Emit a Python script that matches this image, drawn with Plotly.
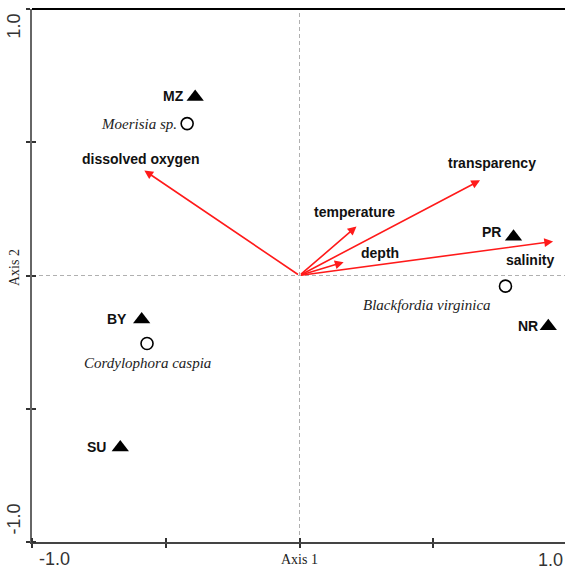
import plotly.graph_objects as go

# Sampling sites (ordination scores)
site_names = ["MZ", "PR", "NR", "BY", "SU"]
site_x = [-0.39, 0.80, 0.93, -0.59, -0.67]
site_y = [0.67, 0.145, -0.19, -0.165, -0.645]

# Species scores
species_names = ["Moerisia sp.", "Blackfordia virginica", "Cordylophora caspia"]
species_x = [-0.42, 0.77, -0.57]
species_y = [0.57, -0.04, -0.255]

# Environmental variable vectors
env_names = ["dissolved oxygen", "transparency", "temperature", "depth", "salinity"]
env_x = [-0.58, 0.675, 0.213, 0.165, 0.948]
env_y = [0.394, 0.357, 0.184, 0.05, 0.128]

# Axis ticks
tick_vals = [-1.0, -0.5, 0.0, 0.5, 1.0]
end_ticks = [-1.0, 1.0]
end_tick_text = ["-1.0", "1.0"]

SANS = "Liberation Sans"
SERIF = "Liberation Serif"

fig = go.Figure()

fig.add_trace(go.Scatter(
    x=species_x, y=species_y, mode="markers",
    marker=dict(symbol="circle-open", size=12, color="black", line=dict(width=1.6)),
    hoverinfo="skip", showlegend=False))

fig.add_trace(go.Scatter(
    x=site_x, y=site_y, mode="markers",
    marker=dict(symbol="triangle-up", size=15, color="black"),
    hoverinfo="skip", showlegend=False))

ann = []

# Arrows from the origin to each variable score
for name, ex, ey in zip(env_names, env_x, env_y):
    ann.append(dict(x=ex, y=ey, ax=0, ay=0, xref="x", yref="y", axref="x", ayref="y",
                    text="", showarrow=True, arrowhead=2, arrowsize=1.1,
                    arrowwidth=1.6, arrowcolor="#ff1a1a"))

# Variable labels
env_shift = {
    "dissolved oxygen": (-4, 12),
    "transparency": (12, 17),
    "temperature": (-2, 14),
    "depth": (36, 9),
    "salinity": (-23, -19),
}
for name, ex, ey in zip(env_names, env_x, env_y):
    dx, dy = env_shift[name]
    ann.append(dict(x=ex, y=ey, xref="x", yref="y", text="<b>%s</b>" % name,
                    showarrow=False, xshift=dx, yshift=dy,
                    font=dict(family=SANS, size=14, color="#111")))

# Site labels (left of the triangle)
site_shift = {"MZ": (-9, 1), "PR": (-11, 5), "NR": (-8, 0), "BY": (-13, 0), "SU": (-12, 0)}
for name, sx, sy in zip(site_names, site_x, site_y):
    dx, dy = site_shift[name]
    ann.append(dict(x=sx, y=sy, xref="x", yref="y", text="<b>%s</b>" % name,
                    showarrow=False, xanchor="right", xshift=dx, yshift=dy,
                    font=dict(family=SANS, size=14, color="#111")))

# Species labels
species_pos = {
    "Moerisia sp.": dict(xanchor="right", xshift=-8, yshift=0),
    "Blackfordia virginica": dict(xanchor="right", xshift=-12, yshift=-19),
    "Cordylophora caspia": dict(xanchor="center", xshift=0, yshift=-20),
}
for name, px, py in zip(species_names, species_x, species_y):
    ann.append(dict(x=px, y=py, xref="x", yref="y", text="<i>%s</i>" % name,
                    showarrow=False, font=dict(family=SERIF, size=15, color="#222"),
                    **species_pos[name]))

TICK_FONT = dict(family=SANS, size=18, color="#333")

# End tick labels on the horizontal axis (the +1 end sits at the page edge)
ann.append(dict(x=end_ticks[0], y=0, xref="x", yref="paper", text=end_tick_text[0],
                showarrow=False, xanchor="left", yanchor="top", xshift=5, yshift=-5,
                font=TICK_FONT))
ann.append(dict(x=1, y=0, xref="paper", yref="paper", text=end_tick_text[1],
                showarrow=False, xanchor="right", yanchor="top", xshift=0, yshift=-6,
                font=TICK_FONT))
# End tick labels on the vertical axis (rotated)
ann.append(dict(x=0, y=end_ticks[1], xref="paper", yref="y", text=end_tick_text[1],
                showarrow=False, textangle=-90, xanchor="right", yanchor="top",
                xshift=-7, yshift=-3, font=TICK_FONT))
ann.append(dict(x=0, y=end_ticks[0], xref="paper", yref="y", text=end_tick_text[0],
                showarrow=False, textangle=-90, xanchor="right", yanchor="bottom",
                xshift=-7, yshift=5, font=TICK_FONT))

# Axis titles
ann.append(dict(x=0, y=0, xref="x", yref="paper", text="Axis 1", showarrow=False,
                yanchor="top", yshift=-8, font=dict(family=SERIF, size=14, color="#222")))
ann.append(dict(x=0, y=0, xref="paper", yref="y", text="Axis 2", showarrow=False,
                textangle=-90, xanchor="right", xshift=-8, yshift=8,
                font=dict(family=SERIF, size=14, color="#222")))

shapes = [
    # dashed reference lines through the origin
    dict(type="line", xref="x", yref="paper", x0=0, x1=0, y0=0, y1=1,
         line=dict(color="#b0b0b0", width=1, dash="4px,3px"), layer="below"),
    dict(type="line", xref="paper", yref="y", x0=0, x1=1, y0=0, y1=0,
         line=dict(color="#b0b0b0", width=1, dash="4px,3px"), layer="below"),
    # top frame
    dict(type="line", xref="paper", yref="paper", x0=0, x1=1, y0=1, y1=1,
         line=dict(color="black", width=2)),
]

axis_common = dict(
    showgrid=False, zeroline=False, showticklabels=False,
    tickvals=tick_vals, ticks="outside", ticklen=4, tickwidth=1.5, tickcolor="#333",
    minor=dict(tickvals=tick_vals, ticks="inside", ticklen=4, tickwidth=1.5, tickcolor="#333"),
    showline=True, linewidth=2,
)

fig.update_layout(
    width=565, height=572,
    margin=dict(l=32, r=0, t=9, b=30),
    paper_bgcolor="white", plot_bgcolor="white",
    xaxis=dict(range=[-1.0, 0.9925], linecolor="#444", **axis_common),
    yaxis=dict(range=[-1.0, 1.0], linecolor="#666", **axis_common),
    annotations=ann, shapes=shapes,
)

fig.write_html("out.html")
